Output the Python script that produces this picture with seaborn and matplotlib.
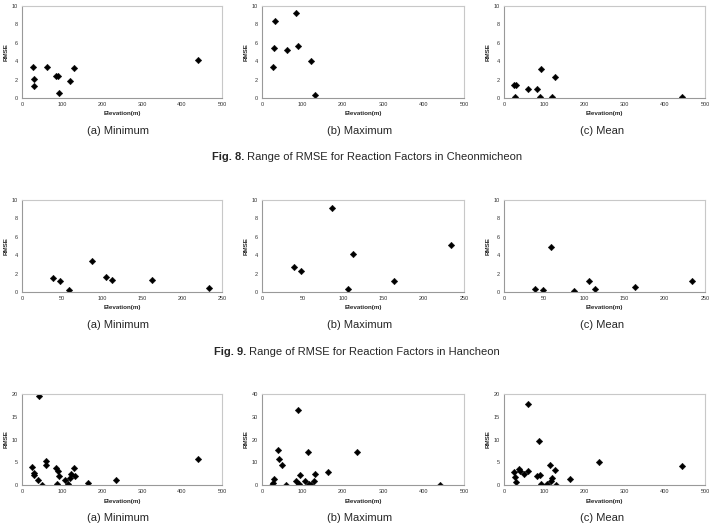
import matplotlib
matplotlib.use("Agg")
import matplotlib.pyplot as plt
import seaborn as sns

# Cheonmicheon (Fig. 8)
cheon_min_x = [27, 29, 31, 62, 85, 90, 93, 120, 130, 441]
cheon_min_y = [3.35, 2.07, 1.3, 3.42, 2.4, 2.4, 0.55, 1.8, 3.27, 4.1]
cheon_max_x = [27, 29, 31, 62, 84, 90, 121, 130]
cheon_max_y = [3.42, 5.45, 8.33, 5.24, 9.24, 5.67, 4.0, 0.33]
cheon_mean_x = [24, 29, 27, 60, 82, 89, 92, 119, 127, 442]
cheon_mean_y = [1.42, 1.45, 0.07, 0.98, 0.95, 0.07, 3.2, 0.15, 2.25, 0.07]

# Hancheon (Fig. 9)
han_min_x = [39, 48, 59, 87, 105, 113, 163, 234]
han_min_y = [1.56, 1.16, 0.22, 3.42, 1.6, 1.27, 1.27, 0.4]
han_max_x = [40, 48, 87, 106, 113, 163, 234]
han_max_y = [2.73, 2.25, 9.13, 0.33, 4.15, 1.24, 5.09]
han_mean_x = [39, 48, 59, 87, 106, 113, 163, 234]
han_mean_y = [0.29, 0.18, 4.9, 0.15, 1.24, 0.29, 0.5, 1.16]

# third river
low_min_x = [42, 26, 29, 31, 39, 50, 61, 61, 84, 91, 88, 93, 107, 116, 120, 122, 129, 132, 165, 235, 440]
low_min_y = [19.6, 3.97, 2.7, 2.2, 1.03, 0.07, 5.3, 4.34, 3.68, 3.16, 0.3, 2.0, 1.18, 0.3, 1.6, 2.35, 3.75, 2.0, 0.5, 1.03, 5.8]
low_max_x = [25, 27, 30, 39, 41, 50, 60, 84, 88, 91, 93, 107, 114, 117, 121, 128, 131, 164, 234, 441]
low_max_y = [0.15, 1.0, 2.8, 15.6, 11.3, 9.0, 0.15, 1.8, 33.1, 0.6, 4.3, 1.9, 14.3, 0.6, 0.15, 1.9, 4.7, 5.7, 14.6, 0.15]
low_mean_x = [24, 27, 30, 37, 41, 50, 59, 59, 81, 89, 88, 93, 107, 114, 118, 119, 127, 130, 164, 236, 442]
low_mean_y = [2.94, 1.7, 0.74, 3.6, 3.1, 2.5, 17.9, 3.1, 2.06, 2.2, 9.7, 0.15, 0.22, 4.3, 0.96, 1.6, 3.2, 0.07, 1.25, 5.0, 4.2]

panel_titles = ["(a) Minimum", "(b) Maximum", "(c) Mean"]
fig_captions = [("Fig. 8.", " Range of RMSE for Reaction Factors in Cheonmicheon"),
                ("Fig. 9.", " Range of RMSE for Reaction Factors in Hancheon")]

rows = [
    [(cheon_min_x, cheon_min_y), (cheon_max_x, cheon_max_y), (cheon_mean_x, cheon_mean_y)],
    [(han_min_x, han_min_y), (han_max_x, han_max_y), (han_mean_x, han_mean_y)],
    [(low_min_x, low_min_y), (low_max_x, low_max_y), (low_mean_x, low_mean_y)],
]
row_xlim = [(0, 500, 100), (0, 250, 50), (0, 500, 100)]
row_ylim = [[10, 10, 10], [10, 10, 10], [20, 40, 20]]
row_ystep = [[2, 2, 2], [2, 2, 2], [5, 10, 5]]

sns.set_style("white")
plt.rcParams["font.family"] = ["Liberation Sans", "DejaVu Sans"]

W, H = 715, 527
fig = plt.figure(figsize=(W / 100, H / 100), dpi=100)

col_lr = [(22, 222), (262, 464), (504, 705)]
row_tb = [(6, 98), (200, 292), (394, 485)]
ylab_x = [4, 244, 486]

for r in range(3):
    top, bot = row_tb[r]
    for c in range(3):
        left, right = col_lr[c]
        ax = fig.add_axes([left / W, 1 - bot / H, (right - left) / W, (bot - top) / H])
        xs, ys = rows[r][c]
        sns.scatterplot(x=xs, y=ys, ax=ax, marker="D", color="black", s=11,
                        edgecolor="black", linewidth=0.3)
        x0, x1, xs_step = row_xlim[r]
        ax.set_xlim(x0, x1)
        ax.set_xticks(range(x0, x1 + 1, xs_step))
        ymax = row_ylim[r][c]
        ax.set_ylim(0, ymax)
        ax.set_yticks(range(0, ymax + 1, row_ystep[r][c]))
        ax.tick_params(labelsize=4, length=0, pad=3, colors="#333333")
        for sp in ax.spines.values():
            sp.set_color("#c8c8c8")
            sp.set_linewidth(0.8)
        ax.spines["left"].set_color("#999999")
        ax.spines["bottom"].set_color("#999999")
        fig.text((left + right) / 2 / W, 1 - (bot + 16) / H, "Elevation(m)",
                 ha="center", va="center", fontsize=4.5, fontweight="bold")
        fig.text(ylab_x[c] / W, 1 - (top + bot) / 2 / H, "RMSE", rotation=90,
                 ha="left", va="center", fontsize=4.5, fontweight="bold")
        fig.text([118, 360, 602][c] / W, 1 - (bot + 33) / H, panel_titles[c],
                 ha="center", va="center", fontsize=8)

for i, (bold, rest) in enumerate(fig_captions):
    y = [157, 352][i]
    x0 = [212, 214][i]
    t = fig.text(x0 / W, 1 - y / H, bold, ha="left", va="center",
                 fontsize=8, fontweight="bold")
    fig.canvas.draw()
    bb = t.get_window_extent()
    fig.text(bb.x1 / W, 1 - y / H, rest, ha="left", va="center", fontsize=8)

fig.savefig("out.png", dpi=100)
